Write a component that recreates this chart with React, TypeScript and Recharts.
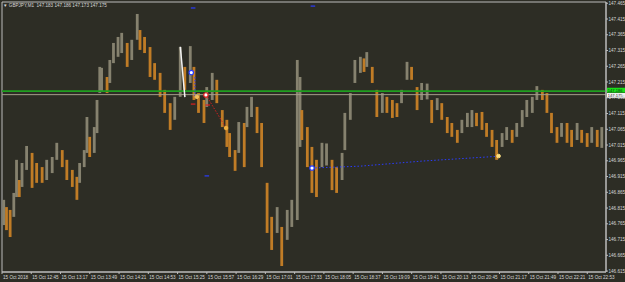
import React from 'react';
import {
  ComposedChart, Bar, XAxis, YAxis, ReferenceLine, ReferenceArea, ReferenceDot, Scatter,
} from 'recharts';

// minutes since 12:13 (first visible bar)
const barMinutes = [
  2, 5, 9, 13, 16, 19, 22, 27, 33, 38, 44, 49, 55, 60, 66, 71, 77, 82, 85, 90,
  93, 96, 101, 104, 107, 109, 115, 118, 122, 127, 131, 137, 142, 148, 151, 156, 162, 167, 173, 178,
  184, 189, 195, 200, 206, 210, 215, 221, 224, 230, 235, 241, 246, 249, 255, 259, 265, 268, 273, 279,
  284, 290, 295, 301, 306, 312, 317, 323, 326, 328, 334, 339, 344, 350, 355, 361, 366, 372, 375, 381,
  386, 392, 396, 399, 405, 410, 416, 421, 427, 432, 437, 443, 448, 454, 459, 465, 470, 476, 481, 487,
  492, 498, 503, 509, 514, 519, 525, 530, 536, 541, 547, 552, 558, 563, 569, 574, 580, 585, 591, 596,
  601, 607, 612, 618, 623, 629, 634, 640, 645, 651, 656,
];
const barHighs = [
  146.841, 146.818, 146.809, 146.863, 146.968, 146.904, 146.958, 147.012, 146.990, 146.958,
  146.945, 146.968, 146.977, 147.022, 146.999, 146.968, 146.936, 146.914, 146.958, 146.999,
  147.104, 147.041, 147.072, 147.158, 147.263, 147.260, 147.231, 147.285, 147.339, 147.358,
  147.371, 147.339, 147.349, 147.431, 147.380, 147.358, 147.326, 147.275, 147.244, 147.190,
  147.148, 147.168, 147.326, 147.263, 147.329, 147.263, 147.180, 147.158, 147.199, 147.244,
  147.222, 147.126, 147.095, 147.053, 146.999, 147.088, 147.085, 147.136, 147.168, 147.136,
  147.085, 146.895, 146.787, 146.818, 146.755, 146.809, 146.841, 147.285, 147.231, 147.126,
  147.072, 147.009, 146.968, 147.022, 147.020, 146.968, 146.945, 146.990, 147.117, 147.180,
  147.285, 147.295, 147.290, 147.310, 147.263, 147.190, 147.180, 147.168, 147.158, 147.148,
  147.190, 147.279, 147.263, 147.199, 147.212, 147.210, 147.158, 147.164, 147.148, 147.104,
  147.085, 147.063, 147.095, 147.117, 147.126, 147.117, 147.120, 147.085, 147.063, 147.031,
  147.053, 147.072, 147.063, 147.085, 147.126, 147.158, 147.168, 147.202, 147.190, 147.180,
  147.117, 147.072, 147.085, 147.085, 147.063, 147.085, 147.063, 147.053, 147.072, 147.063,
  147.072,
];
const barLows = [
  146.761, 146.745, 146.723, 146.787, 146.850, 146.850, 146.882, 146.936, 146.879, 146.895,
  146.895, 146.904, 146.926, 146.968, 146.945, 146.904, 146.882, 146.841, 146.895, 146.945,
  146.990, 146.977, 146.990, 147.053, 147.180, 147.185, 147.180, 147.212, 147.275, 147.295,
  147.307, 147.263, 147.285, 147.349, 147.317, 147.307, 147.231, 147.222, 147.168, 147.117,
  147.063, 147.095, 147.168, 147.190, 147.212, 147.158, 147.117, 147.085, 147.136, 147.158,
  147.148, 147.072, 147.009, 146.977, 146.933, 146.990, 146.945, 147.072, 147.104, 147.053,
  146.945, 146.736, 146.682, 146.736, 146.631, 146.714, 146.755, 146.777, 147.009, 147.031,
  146.945, 146.863, 146.850, 146.945, 146.950, 146.872, 146.863, 146.904, 146.999, 147.095,
  147.212, 147.244, 147.247, 147.263, 147.212, 147.104, 147.117, 147.117, 147.101, 147.104,
  147.148, 147.222, 147.222, 147.126, 147.158, 147.160, 147.085, 147.126, 147.095, 147.053,
  147.041, 147.022, 147.053, 147.072, 147.072, 147.075, 147.063, 147.041, 147.009, 146.968,
  147.009, 147.031, 147.022, 147.041, 147.072, 147.104, 147.117, 147.158, 147.158, 147.117,
  147.053, 147.022, 147.041, 147.022, 147.009, 147.031, 147.022, 147.009, 147.022, 147.009,
  147.006,
];

const xTickMinutes = [0, 32, 64, 96, 128, 160, 192, 224, 256, 288, 320, 352, 384, 416, 448, 480, 512, 544, 576, 608, 640];
const xTickLabels = [
  '15 Oct 2018', '15 Oct 12:45', '15 Oct 13:17', '15 Oct 13:49', '15 Oct 14:21', '15 Oct 14:53',
  '15 Oct 15:25', '15 Oct 15:57', '15 Oct 16:29', '15 Oct 17:01', '15 Oct 17:33', '15 Oct 18:05',
  '15 Oct 18:37', '15 Oct 19:09', '15 Oct 19:41', '15 Oct 20:13', '15 Oct 20:45', '15 Oct 21:17',
  '15 Oct 21:49', '15 Oct 22:21', '15 Oct 22:53',
];
const priceTicks = [
  146.615, 146.665, 146.715, 146.765, 146.815, 146.865, 146.915, 146.965, 147.015,
  147.065, 147.115, 147.165, 147.215, 147.265, 147.315, 147.365, 147.415, 147.465,
];
const headerText = '\u25BC GBPJPY,M1  147.183 147.186 147.173 147.175';
const bidPrice = 147.175;
const askPrice = 147.186;

const trendMinutes = [339, 392, 459, 530, 545];
const trendPrices = [146.942, 146.948, 146.964, 146.977, 146.980];

const X_DOMAIN: [number, number] = [0, 660.5];
const Y_DOMAIN: [number, number] = [146.612, 147.469];

const ORANGE = '#c07c26';
const GRAY = '#86826f';
const BG = '#2d2d25';
const FRAME = '#bcbcbc';
const TEXT = '#d6d6d6';
const FONT = '"Liberation Sans", Arial, sans-serif';
const BAR_W = 2.8;

const barData = barMinutes.map((t, i) => ({ t, range: [barLows[i], barHighs[i]] }));
const barColors = barMinutes.map((_, i) => {
  if (i === 0) return GRAY;
  const mid = (barLows[i] + barHighs[i]) / 2;
  const prev = (barLows[i - 1] + barHighs[i - 1]) / 2;
  return mid < prev ? ORANGE : GRAY;
});
const trendData = trendMinutes.map((t, i) => ({ t, p: trendPrices[i] }));

const BarShape = (props: any) => {
  const { x, y, width, height, index } = props;
  if (x == null || y == null) return <g />;
  const cx = x + (width || 0) / 2;
  const top = Math.min(y, y + height);
  const h = Math.max(1, Math.abs(height));
  return <rect x={cx - BAR_W / 2} y={top} width={BAR_W} height={h} fill={barColors[index] ?? GRAY} />;
};

const XTick = (props: any) => {
  const { x, y, payload } = props;
  const idx = xTickMinutes.indexOf(payload.value);
  return (
    <text x={x + 1} y={y + 5.2} fontSize={4.6} fill={TEXT} fontFamily={FONT} textAnchor="start">
      {xTickLabels[idx] ?? ''}
    </text>
  );
};

const YTick = (props: any) => {
  const { x, y, payload } = props;
  return (
    <text x={x} y={y + 1.6} fontSize={4.6} fill={TEXT} fontFamily={FONT} textAnchor="start">
      {Number(payload.value).toFixed(3)}
    </text>
  );
};

const priceBox = (text: string, bg: string, fg: string, shift: number) => (props: any) => {
  const vb = props.viewBox || {};
  const x = (vb.x ?? 0) + (vb.width ?? 0) + 1;
  const y = (vb.y ?? 0) + shift;
  return (
    <g>
      <rect x={x} y={y - 2.4} width={18} height={4.8} fill={bg} />
      <text x={x + 0.8} y={y + 1.45} fontSize={4.1} fill={fg} fontFamily={FONT}>{text}</text>
    </g>
  );
};

const Dash = ({ t, p, color }: { t: number; p: number; color: string }) => (
  <ReferenceLine segment={[{ x: t - 2.5, y: p }, { x: t + 2.5, y: p }]} stroke={color} strokeWidth={1.2} />
);

export default function App() {
  return (
    <div style={{ position: 'absolute', left: 0, top: 0, width: 625, height: 282, background: BG, overflow: 'hidden' }}>
      <ComposedChart
        width={625}
        height={282}
        data={barData}
        margin={{ top: 2, right: 0, bottom: 0, left: 2 }}
      >
        <XAxis
          dataKey="t"
          type="number"
          domain={X_DOMAIN}
          allowDataOverflow
          ticks={xTickMinutes}
          tick={<XTick />}
          tickSize={2}
          tickMargin={0}
          tickLine={{ stroke: FRAME }}
          axisLine={{ stroke: FRAME }}
          height={10}
          interval={0}
        />
        <YAxis
          orientation="right"
          type="number"
          domain={Y_DOMAIN}
          allowDataOverflow
          ticks={priceTicks}
          tick={<YTick />}
          tickSize={2}
          tickMargin={0.5}
          tickLine={{ stroke: FRAME }}
          axisLine={{ stroke: FRAME }}
          width={19}
          interval={0}
        />
        <ReferenceArea
          x1={X_DOMAIN[0]}
          x2={X_DOMAIN[1]}
          y1={Y_DOMAIN[0]}
          y2={Y_DOMAIN[1]}
          fill="none"
          stroke={FRAME}
          strokeWidth={1}
        />
        <Bar dataKey="range" barSize={2} shape={<BarShape />} isAnimationActive={false} />
        <ReferenceLine y={askPrice} stroke="#1f9f1f" strokeWidth={1.6} label={priceBox('147.186', '#19e019', '#103010', -1)} />
        <ReferenceLine y={bidPrice} stroke="#a39d8a" strokeWidth={1} label={priceBox('147.175', '#f4f4f4', '#202020', 0.8)} />
        <Scatter
          data={trendData}
          dataKey="p"
          line={{ stroke: '#2a3cff', strokeWidth: 1, strokeDasharray: '1.5 2' }}
          shape={() => <g />}
          isAnimationActive={false}
        />
        <ReferenceLine segment={[{ x: 195, y: 147.327 }, { x: 200, y: 147.167 }]} stroke="#f2f2f2" strokeWidth={1.5} />
        <ReferenceLine segment={[{ x: 223, y: 147.174 }, { x: 245, y: 147.069 }]} stroke="#d02020" strokeWidth={1} strokeDasharray="1.5 1.5" />
        <ReferenceLine segment={[{ x: 211, y: 147.231 }, { x: 211, y: 147.168 }]} stroke="#2a3cff" strokeWidth={1} strokeDasharray="1.5 1.5" />
        {Dash({ t: 209, p: 147.450, color: '#2a3cff' })}
        {Dash({ t: 224, p: 146.917, color: '#2a3cff' })}
        {Dash({ t: 340, p: 147.456, color: '#2a3cff' })}
        {Dash({ t: 209, p: 147.145, color: '#e02020' })}
        {Dash({ t: 225, p: 147.142, color: '#e02020' })}
        <ReferenceDot x={207} y={147.245} r={2.2} fill="#ffffff" stroke="#2a3cff" strokeWidth={1.2} />
        <ReferenceDot x={223} y={147.174} r={2.2} fill="#ffffff" stroke="#e02020" strokeWidth={1.2} />
        <ReferenceDot x={213} y={147.168} r={1.8} fill="#f0c060" stroke="#f0c060" />
        <ReferenceDot x={245} y={147.069} r={1.8} fill="#f0b040" stroke="#f0b040" />
        <ReferenceDot x={339} y={146.942} r={2.2} fill="#ffffff" stroke="#2a3cff" strokeWidth={1.2} />
        <ReferenceDot x={543} y={146.980} r={1.8} fill="#ffe080" stroke="#ffe080" />
      </ComposedChart>
      <div
        style={{
          position: 'absolute', left: 3, top: 2.5, fontSize: 4.6, lineHeight: '5px',
          color: TEXT, fontFamily: '"Liberation Sans", "DejaVu Sans", sans-serif', whiteSpace: 'pre',
        }}
      >
        {headerText}
      </div>
    </div>
  );
}
